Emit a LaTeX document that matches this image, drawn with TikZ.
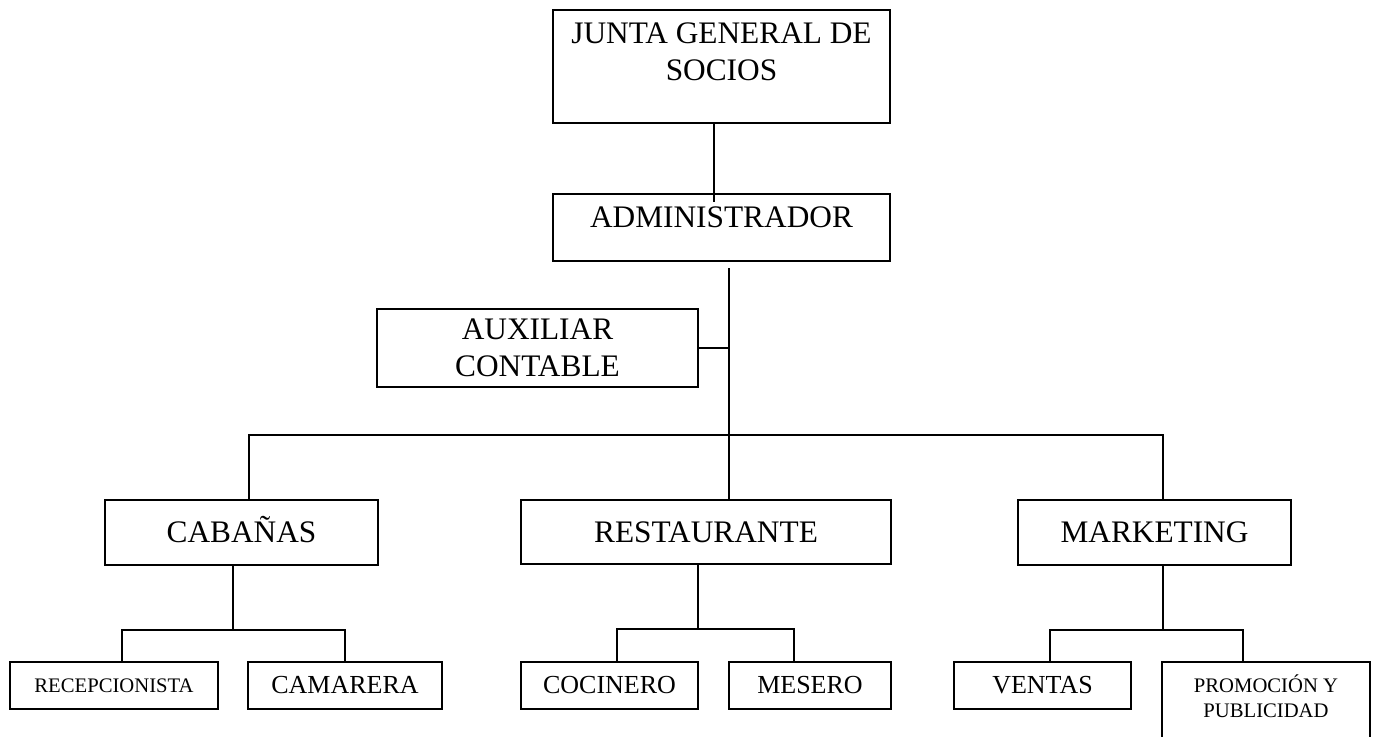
\documentclass[tikz,border=0pt]{standalone}
\usepackage{fontspec}
\setmainfont{Liberation Serif}
\begin{document}
\begin{tikzpicture}[x=0.75pt,y=0.75pt,yscale=-1,xscale=1,
        box/.style={draw, line width=1.1pt, inner sep=0pt, align=center},
        big/.style={font=\fontsize{23.5}{27.5}\selectfont},
        mid/.style={font=\fontsize{19.5}{23}\selectfont},
        small/.style={font=\fontsize{15.5}{18.75}\selectfont},
        link/.style={line width=1.1pt}]
        \useasboundingbox (0,0) rectangle (1376,736);
        
        %Shape: Rectangle [junta]
        \node [box, minimum width=252.75pt, minimum height=84.75pt] (junta) at (721.5,66.5) {};
        % Text Node
        \node [big, align=center, inner sep=0pt] (juntatxt) at (721.5,51.5) {JUNTA GENERAL DE\\SOCIOS};
        %Shape: Rectangle [admin]
        \node [box, minimum width=252.75pt, minimum height=50.25pt] (admin) at (721.5,227.5) {};
        % Text Node
        \node [big, inner sep=0pt] (admintxt) at (721.5,217.5) {ADMINISTRADOR};
        %Shape: Rectangle [aux]
        \node [box, big, minimum width=240.75pt, minimum height=58.5pt] (aux) at (537.5,348) {AUXILIAR\\CONTABLE};
        
        %Shape: Rectangle [areas]
        \node [box, big, minimum width=204.75pt, minimum height=48.75pt, text height=15.5pt, text depth=0pt] (cab) at (241.5,532.5) {CABAÑAS};
        \node [box, big, minimum width=277.5pt, minimum height=48pt] (rest) at (706,532) {RESTAURANTE};
        \node [box, big, minimum width=204.75pt, minimum height=48.75pt] (mkt) at (1154.5,532.5) {MARKETING};
        
        %Shape: Rectangle [cargos]
        \node [box, small, minimum width=156pt, minimum height=35.25pt] (recep) at (114,685.5) {RECEPCIONISTA};
        \node [box, mid, minimum width=145.5pt, minimum height=35.25pt] (cam) at (345,685.5) {CAMARERA};
        \node [box, mid, minimum width=132.75pt, minimum height=35.25pt] (coc) at (609.5,685.5) {COCINERO};
        \node [box, mid, minimum width=121.5pt, minimum height=35.25pt] (mes) at (810,685.5) {MESERO};
        \node [box, mid, minimum width=132.75pt, minimum height=35.25pt] (ven) at (1042.5,685.5) {VENTAS};
        \node [box, minimum width=156pt, minimum height=58.5pt] (promo) at (1266,701) {};
        % Text Node
        \node [small, align=center, inner sep=0pt] (promotxt) at (1266,696.5) {PROMOCIÓN Y\\PUBLICIDAD};
        
        %Straight Lines [junta - admin]
        \coordinate (jadm) at (714,202);
        \draw [link] (jadm |- junta.south) -- (jadm);
        %Straight Lines [admin - areas]
        \coordinate (trunk) at (729,268);
        \coordinate (hub) at (729,435);
        \draw [link] (trunk) -- (hub) -- (hub |- rest.north);
        \draw [link] (aux.east) -- (aux.east -| trunk);
        \coordinate (cabin) at (249,435);
        \coordinate (mktin) at (1163,435);
        \draw [link] (cabin |- cab.north) -- (cabin) -- (mktin) -- (mktin |- mkt.north);
        
        %Straight Lines [cabanas]
        \coordinate (cabfork) at (233,630);
        \coordinate (recepin) at (122,630);
        \coordinate (camin) at (345,630);
        \draw [link] (cabfork |- cab.south) -- (cabfork);
        \draw [link] (recepin |- recep.north) -- (recepin) -- (camin) -- (camin |- cam.north);
        %Straight Lines [restaurante]
        \coordinate (restfork) at (698,629);
        \coordinate (cocin) at (617,629);
        \coordinate (mesin) at (794,629);
        \draw [link] (restfork |- rest.south) -- (restfork);
        \draw [link] (cocin |- coc.north) -- (cocin) -- (mesin) -- (mesin |- mes.north);
        %Straight Lines [marketing]
        \coordinate (mktfork) at (1163,630);
        \coordinate (venin) at (1050,630);
        \coordinate (promoin) at (1243,630);
        \draw [link] (mktfork |- mkt.south) -- (mktfork);
        \draw [link] (venin |- ven.north) -- (venin) -- (promoin) -- (promoin |- promo.north);
        
        \end{tikzpicture}
\end{document}
